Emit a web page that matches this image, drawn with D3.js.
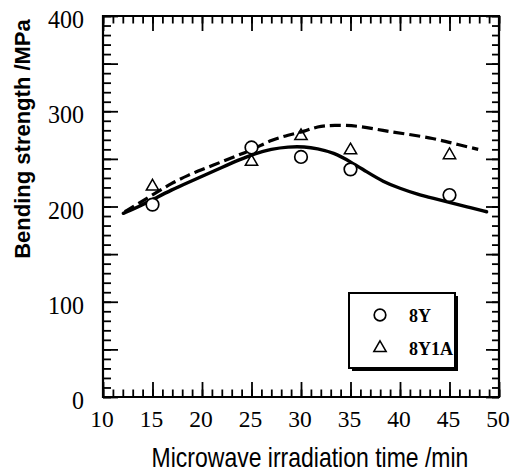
<!DOCTYPE html>
<html><head><meta charset="utf-8">
<script src="https://cdn.jsdelivr.net/npm/d3@7"></script>
<style>body{margin:0;background:#fff}svg{display:block}</style>
</head><body>
<svg id="c" width="510" height="473"></svg>
<script>
const xTickLabels = [10,15,20,25,30,35,40,45,50];
const yTickLabels = [0,100,200,300,400];
const times = [15,25,30,35,45];
const s8Y = [202,262,252,239,212];
const s8Y1A = [221,247,274,259,254];
const fit8Yx = [12.05,13.6,15.25,16.9,18.6,20.3,22.0,23.7,25.35,27.0,28.7,30.4,31.6,33.3,35.0,36.6,38.3,40.0,41.7,43.4,45.1,46.7,48.75];
const fit8Yy = [192.8,199.8,208.5,217.3,225.3,233,241,248.8,255.7,260.3,262.8,262.8,261,256.6,247,236.6,226,219,213,208.5,204,199.8,194.5];
const fit8Y1Ax = [12.2,13.6,15.25,16.9,18.6,20.3,22.0,23.7,25.35,27.0,28.7,30.4,31.6,33.3,35.8,38.3,40.7,43.4,45.4,47.9];
const fit8Y1Ay = [194.5,203.2,213.7,224.2,233,240,247,254,261,269.8,275,279,284,285.6,284.8,279.6,276,271.5,266.2,260];
const xMinorTicks = [10,11,12,13,14,15,16,17,18,19,20,21,22,23,24,25,26,27,28,29,30,31,32,33,34,35,36,37,38,39,40,41,42,43,44,45,46,47,48,49,50];
const xMajorTicks = [10,15,20,25,30,35,40,45,50];
const yMinorTicks = [0,10,20,30,40,50,60,70,80,90,100,110,120,130,140,150,160,170,180,190,200,210,220,230,240,250,260,270,280,290,300,310,320,330,340,350,360,370,380,390,400];
const yMajorTicks = [0,50,100,150,200,250,300,350,400];
const legendLabels = ["8Y","8Y1A"];

const svg = d3.select("#c");
svg.append("rect").attr("width",510).attr("height",473).attr("fill","#fff");
const x = d3.scaleLinear().domain([10,50]).range([103,499]);
const y = d3.scaleLinear().domain([0,400]).range([397,16]);
const serif = "'Liberation Serif','Times New Roman',serif";
const sans = "'Liberation Sans',Arial,sans-serif";

svg.append("path")
  .attr("d",`M${x(10)},${y(400)}H${x(50)}V${y(0)}H${x(10)}Z`)
  .attr("fill","none").attr("stroke","#000").attr("stroke-width",2.2);

// tick labels
svg.append("g").selectAll("text").data(xTickLabels).join("text")
  .attr("x",d=>x(d)-1).attr("y",427)
  .attr("text-anchor","middle").attr("font-family",serif).attr("font-size",23.5).text(d=>d);
svg.append("g").selectAll("text").data(yTickLabels).join("text")
  .attr("transform",d=>`translate(84,${y(d)+12}) scale(1,1.08)`)
  .attr("text-anchor","end").attr("font-family",serif).attr("font-size",24).text(d=>d);

// titles
svg.append("text").attr("transform","translate(310,467) scale(1,1.18)")
  .attr("text-anchor","middle").attr("font-family",sans).attr("font-size",23).text("Microwave irradiation time /min");
svg.append("text").attr("transform","translate(30,139) rotate(-90)")
  .attr("text-anchor","middle").attr("font-family",sans).attr("font-weight","bold").attr("font-size",22).text("Bending strength /MPa");

// curves
const line = d3.line().x(d=>x(d[0])).y(d=>y(d[1])).curve(d3.curveBasis);
svg.append("path").attr("d",line(d3.zip(fit8Yx,fit8Yy))).attr("fill","none").attr("stroke","#000").attr("stroke-width",3.4).attr("stroke-linecap","round");
svg.append("path").attr("d",line(d3.zip(fit8Y1Ax,fit8Y1Ay))).attr("fill","none").attr("stroke","#000").attr("stroke-width",3.2).attr("stroke-dasharray","11,5");

// points
const tri = d3.symbol().type(d3.symbolTriangle).size(66);
svg.append("g").selectAll("circle").data(d3.zip(times,s8Y)).join("circle")
  .attr("cx",d=>x(d[0])).attr("cy",d=>y(d[1])).attr("r",6.3)
  .attr("fill","#fff").attr("stroke","#000").attr("stroke-width",1.7);
svg.append("g").selectAll("path").data(d3.zip(times,s8Y1A)).join("path")
  .attr("transform",d=>`translate(${x(d[0])},${y(d[1])})`).attr("d",tri)
  .attr("fill","none").attr("stroke","#000").attr("stroke-width",1.5);

// legend
const lg = svg.append("g");
lg.append("rect").attr("x",352).attr("y",296).attr("width",106).attr("height",75).attr("fill","#000");
lg.append("rect").attr("x",349).attr("y",293).attr("width",106).attr("height",75).attr("fill","#fff").attr("stroke","#000").attr("stroke-width",2);
lg.append("circle").attr("cx",380).attr("cy",315).attr("r",5.8).attr("fill","#fff").attr("stroke","#000").attr("stroke-width",1.7);
lg.append("path").attr("transform","translate(380,348)").attr("d",tri).attr("fill","none").attr("stroke","#000").attr("stroke-width",1.5);
lg.selectAll("text.l").data(legendLabels).join("text").attr("class","l")
  .attr("x",409).attr("y",(d,i)=>[322,355][i]).attr("font-family",serif).attr("font-weight","bold").attr("font-size",18).text(d=>d);

// axes ticks drawn last, using D3's axis generators (inward ticks, no labels)
function tickAxis(gen, values, size, tx, ty){
  const g = svg.append("g").attr("transform",`translate(${tx},${ty})`)
    .call(gen.tickValues(values).tickSize(size).tickFormat(""));
  g.select(".domain").remove();
  g.selectAll(".tick line").attr("stroke","#000").attr("stroke-width",1.8);
  g.selectAll(".tick text").remove();
}
tickAxis(d3.axisBottom(x), xMinorTicks, -7.5, 0, y(0));
tickAxis(d3.axisBottom(x), xMajorTicks, -15, 0, y(0));
tickAxis(d3.axisTop(x), xMinorTicks, -7.5, 0, y(400));
tickAxis(d3.axisTop(x), xMajorTicks, -15, 0, y(400));
tickAxis(d3.axisLeft(y), yMinorTicks, -8, x(10), 0);
tickAxis(d3.axisLeft(y), yMajorTicks, -15, x(10), 0);
tickAxis(d3.axisRight(y), yMinorTicks, -7, x(50), 0);
tickAxis(d3.axisRight(y), yMajorTicks, -13, x(50), 0);
</script>
</body></html>
